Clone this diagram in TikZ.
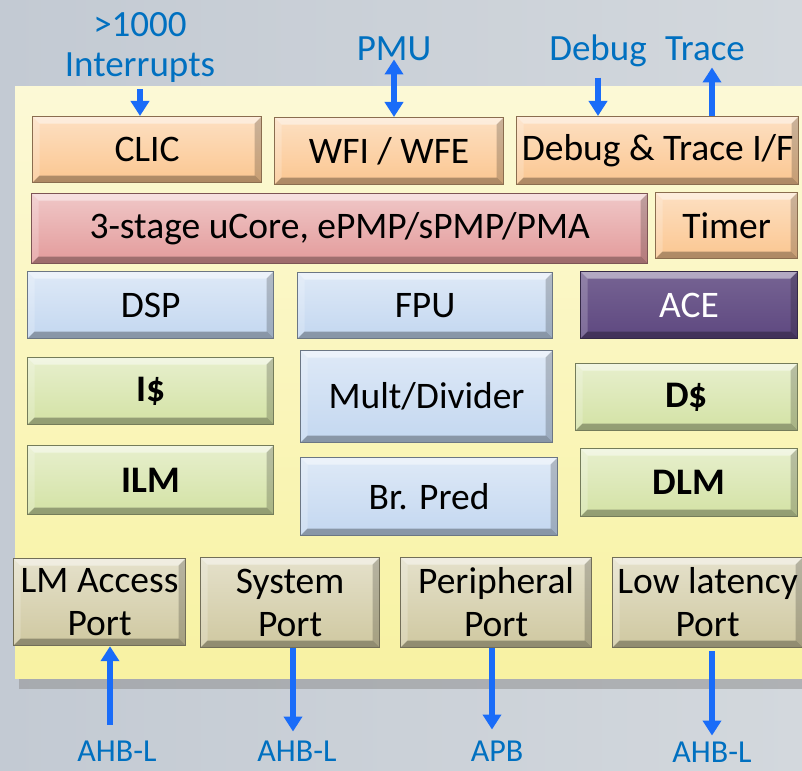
\documentclass[tikz,border=0pt]{standalone}
\usepackage{fontspec}
\setmainfont{Carlito}
\usetikzlibrary{arrows.meta}

\definecolor{bgl}{HTML}{C3CAD3}
\definecolor{bgr}{HTML}{D3D8DD}
\definecolor{pnltop}{HTML}{FCF9D6}
\definecolor{pnlbot}{HTML}{F8F2A2}
\definecolor{orng}{HTML}{FBC690}
\definecolor{pink}{HTML}{E39A9A}
\definecolor{lblue}{HTML}{C3D7F0}
\definecolor{purp}{HTML}{5E4880}
\definecolor{lgrn}{HTML}{D3E2A4}
\definecolor{tan}{HTML}{CFC8A0}
\definecolor{sigblue}{HTML}{1A6CF8}
\definecolor{txtblue}{HTML}{0070C0}

\tikzset{
  bevel/.style={path picture={
    \fill[white, opacity=.45] (path picture bounding box.north west) -- (path picture bounding box.north east)
      -- ([xshift=-7pt,yshift=-7pt]path picture bounding box.north east) -- ([xshift=7pt,yshift=-7pt]path picture bounding box.north west) -- cycle;
    \fill[white, opacity=.2] (path picture bounding box.north west) -- (path picture bounding box.south west)
      -- ([xshift=7pt,yshift=7pt]path picture bounding box.south west) -- ([xshift=7pt,yshift=-7pt]path picture bounding box.north west) -- cycle;
    \fill[black, opacity=.2] (path picture bounding box.north east) -- (path picture bounding box.south east)
      -- ([xshift=-7pt,yshift=7pt]path picture bounding box.south east) -- ([xshift=-7pt,yshift=-7pt]path picture bounding box.north east) -- cycle;
    \fill[black, opacity=.3] (path picture bounding box.south west) -- (path picture bounding box.south east)
      -- ([xshift=-7pt,yshift=7pt]path picture bounding box.south east) -- ([xshift=7pt,yshift=7pt]path picture bounding box.south west) -- cycle;
  }}
}

\begin{document}
\begin{tikzpicture}[x=1pt,y=-1pt,
  blk/.style={draw=#1!55!black, line width=1.2pt, top color=#1!55!white, bottom color=#1, bevel,
    anchor=north west, inner sep=0pt, align=center, font=\fontsize{37.5}{43}\selectfont},
  lbl/.style={text=txtblue, inner sep=0pt, align=center, font=\fontsize{37}{40}\selectfont},
  bus/.style={text=txtblue, inner sep=0pt, font=\fontsize{32}{36}\selectfont},
  sig/.style={draw=sigblue, line width=5.5pt, -{Triangle[width=18pt,length=15pt]}}]
\useasboundingbox (0,0) rectangle (802,770);
\fill[left color=bgl, right color=bgr] (0,0) rectangle (802,770);
% panel
\fill[black!45, opacity=0.5] (19,93) rectangle (802,689);
\fill[top color=pnltop, bottom color=pnlbot] (15,87) rectangle (802,678);

% top row
\node[blk=orng, minimum width=229pt, minimum height=66pt] (clic) at (32,116) {CLIC};
\node[blk=orng, minimum width=229pt, minimum height=67pt] (wfi) at (274,117) {WFI / WFE};
\node[blk=orng, minimum width=282pt, minimum height=68pt] (dbg) at (516,116) {Debug \& Trace I/F};
\node[blk=pink, minimum width=616pt, minimum height=70pt] (core) at (31,193) {3-stage uCore, ePMP/sPMP/PMA};
\node[blk=orng, minimum width=142pt, minimum height=66pt] (timer) at (655,192) {Timer};

% units
\node[blk=lblue, minimum width=246pt, minimum height=67pt] (dsp) at (27,271) {DSP};
\node[blk=lblue, minimum width=255pt, minimum height=66pt] (fpu) at (297,272) {FPU};
\node[blk=purp, text=white, top color=purp!85!white, minimum width=217pt, minimum height=67pt] (ace) at (580,271) {ACE};
\node[blk=lgrn, minimum width=246pt, minimum height=67pt, font=\fontsize{37.5}{43}\selectfont\bfseries] (icache) at (27,357) {I\$};
\node[blk=lblue, minimum width=252pt, minimum height=92pt] (mdiv) at (300,350) {Mult/Divider};
\node[blk=lgrn, minimum width=222pt, minimum height=67pt, font=\fontsize{37.5}{43}\selectfont\bfseries] (dcache) at (575,363) {D\$};
\node[blk=lgrn, minimum width=246pt, minimum height=69pt, font=\fontsize{37.5}{43}\selectfont\bfseries] (ilm) at (27,445) {ILM};
\node[blk=lblue, minimum width=257pt, minimum height=78pt] (bpred) at (300,457) {Br. Pred};
\node[blk=lgrn, minimum width=217pt, minimum height=68pt, font=\fontsize{37.5}{43}\selectfont\bfseries] (dlm) at (580,448) {DLM};

% ports
\node[blk=tan, minimum width=172pt, minimum height=87pt] (lmp) at (13,558) {LM Access\\Port};
\node[blk=tan, minimum width=179pt, minimum height=90pt] (sysp) at (200,557) {System\\Port};
\node[blk=tan, minimum width=191pt, minimum height=90pt] (perp) at (400,557) {Peripheral\\Port};
\node[blk=tan, minimum width=190pt, minimum height=90pt] (llp) at (612,557) {Low latency\\Port};

% outside signals
\node[lbl, anchor=north] (intr) at (140,12) {>1000\\Interrupts};
\node[lbl, anchor=base] (pmu) at (394,61) {PMU};
\node[lbl, anchor=base] (dbgin) at (598,61) {Debug};
\node[lbl, anchor=base] (trc) at (705,61) {Trace};
\node[bus] (ahb1) at (117,751) {AHB-L};
\node[bus] (ahb2) at (297,751) {AHB-L};
\node[bus] (apb) at (497,751) {APB};
\node[bus] (ahb3) at (712,752) {AHB-L};

\draw[sig, shorten <=7pt] (intr.south) -- (intr.south |- clic.north);
\draw[sig, {Triangle[width=18pt,length=15pt]}-{Triangle[width=18pt,length=15pt]}] ([yshift=2pt]pmu.south) -- (pmu.south |- wfi.north);
\draw[sig, shorten <=10pt] (dbgin.south) -- (dbgin.south |- dbg.north);
\draw[sig, shorten >=3pt] ([xshift=7pt]trc.south |- dbg.north) -- ([xshift=7pt,yshift=-3pt]trc.south);
\draw[sig, shorten <=16pt] ([xshift=-7pt]ahb1.north) -- ([xshift=-7pt]ahb1.north |- lmp.south);
\draw[sig, shorten >=9pt] ([xshift=-4pt]ahb2.north |- sysp.south) -- ([xshift=-4pt]ahb2.north);
\draw[sig, shorten >=11pt] ([xshift=-5pt]apb.north |- perp.south) -- ([xshift=-5pt]apb.north);
\draw[sig, shorten <=3pt, shorten >=6pt] (ahb3.north |- llp.south) -- (ahb3.north);
\end{tikzpicture}
\end{document}
